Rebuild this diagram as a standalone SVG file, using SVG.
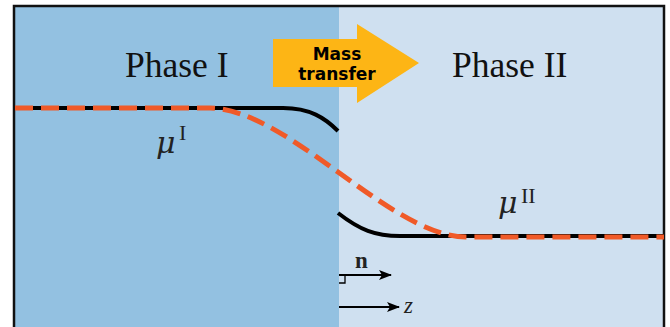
<svg xmlns="http://www.w3.org/2000/svg" width="670" height="327" viewBox="0 0 670 327">
<style>
.phase{font-family:"Liberation Serif",serif;font-size:35.5px;fill:#111}
.mu{font-family:"DejaVu Serif","Liberation Serif",serif;font-style:italic;font-size:30px;fill:#222}
.sup{font-family:"Liberation Serif",serif;font-size:22px;fill:#222}
.black{fill:none;stroke:#000;stroke-width:4}
.red{fill:none;stroke:#f05a28;stroke-width:5;stroke-dasharray:18 8}
.vec{fill:none;stroke:#000;stroke-width:2}
.mt{font-family:"DejaVu Sans","Liberation Sans",sans-serif;font-weight:bold;font-size:17px;fill:#000}
</style>
<defs>
<marker id="ah" viewBox="0 0 13 10" refX="12" refY="5" markerWidth="13" markerHeight="10" markerUnits="userSpaceOnUse" orient="auto">
<path d="M0,0 L13,5 L0,10 L3,5 Z" fill="#000"/>
</marker>
</defs>
<g id="phase1">
<rect x="15" y="6" width="324" height="330" fill="#93c1e1"/>
<text class="phase" x="125" y="77">Phase I</text>
</g>
<g id="phase2">
<rect x="339" y="6" width="325" height="330" fill="#cfe0f0"/>
<text class="phase" x="452" y="77">Phase II</text>
</g>
<rect x="14" y="6" width="650" height="340" fill="none" stroke="#111" stroke-width="2.5"/>
<g id="mass-transfer">
<path d="M273,39 L357,39 L357,24 L419,63 L357,103 L357,87 L273,87 Z" fill="#fdb515"/>
<text class="mt" x="337" y="60" text-anchor="middle">Mass</text>
<text class="mt" x="337" y="80" text-anchor="middle">transfer</text>
</g>
<g id="connectors">
<path class="black" d="M15,108 L283,108 C310,108 325,118 338,131"/>
<path class="black" d="M338,213 C360,230 375,236 400,236 L664,236"/>
<path class="red" d="M15,108 L210,108 C250,108 300,145 338,172 C376,199 426,237 466,237 L664,237"/>
<path class="vec" d="M339,275 L391,275" marker-end="url(#ah)"/>
<path d="M339,283 L345,283 L345,276" fill="none" stroke="#000" stroke-width="1.3"/>
<path class="vec" d="M339,307 L399,307" marker-end="url(#ah)"/>
</g>
<g id="labels">
<text class="mu" x="156" y="153">μ</text>
<text class="sup" x="179" y="140">I</text>
<text class="mu" x="498" y="213">μ</text>
<text class="sup" x="521" y="203">II</text>
<text x="355" y="268" font-family="Liberation Serif,serif" font-weight="bold" font-size="23" fill="#222">n</text>
<text x="404" y="313" font-family="Liberation Serif,serif" font-style="italic" font-size="23" fill="#222">z</text>
</g>
</svg>
